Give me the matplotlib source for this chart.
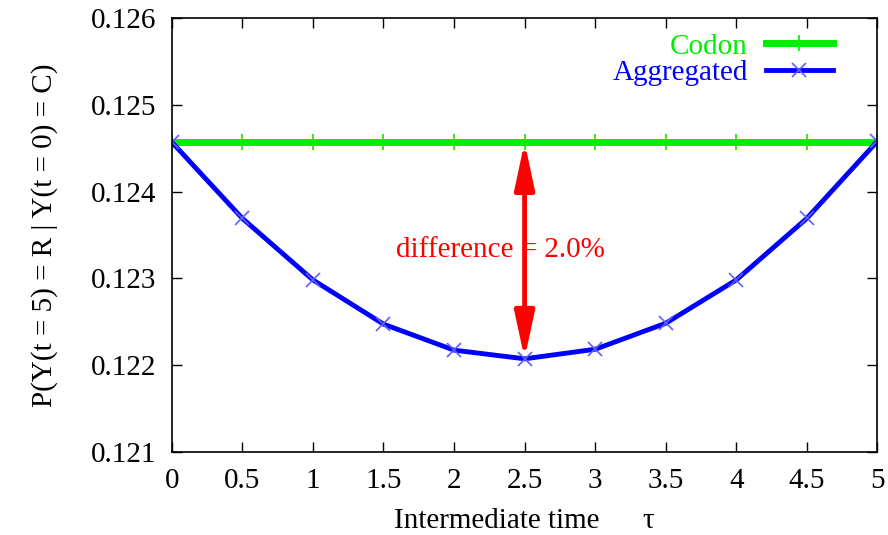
import matplotlib.pyplot as plt
import numpy as np
from matplotlib.patches import FancyArrowPatch

plt.rcParams['font.family'] = ['Liberation Serif', 'DejaVu Serif']

# data
tau = [0, 0.5, 1, 1.5, 2, 2.5, 3, 3.5, 4, 4.5, 5]
codon = [0.12457] * 11
aggregated = [0.12457, 0.12369, 0.12298, 0.12247, 0.12217, 0.12207,
              0.12218, 0.12248, 0.12298, 0.12369, 0.12458]
xticks = [0, 0.5, 1, 1.5, 2, 2.5, 3, 3.5, 4, 4.5, 5]
xticklabels = ["0", "0.5", "1", "1.5", "2", "2.5", "3", "3.5", "4", "4.5", "5"]
yticks = [0.121, 0.122, 0.123, 0.124, 0.125, 0.126]

fs = 21

fig = plt.figure(figsize=(8.88, 5.35), dpi=100)
ax = fig.add_axes([0.1935, 0.156, 0.7945, 0.810])

ax.plot(tau, codon, color='#00ee00', lw=5, marker='+', ms=12, mew=1.2,
        label='Codon')
ax.plot(tau, aggregated, color='#0000ff', lw=3.5, marker='x', ms=10, mew=1.2,
        mec='#6060ff', label='Aggregated')

# double arrow showing the gap at tau = 2.5
imin = int(np.argmin(aggregated))
arr = FancyArrowPatch((tau[imin], codon[imin]), (tau[imin], aggregated[imin]),
                      arrowstyle='<|-|>,head_length=2.8,head_width=0.6',
                      mutation_scale=10, color='red', lw=3.5, shrinkA=0, shrinkB=0,
                      zorder=4)
ax.add_patch(arr)
diff = (codon[imin] - aggregated[imin]) / codon[imin] * 100
ax.text(2.33, 0.12333, "difference = %.1f%%" % diff, color='red', fontsize=fs,
        ha='center', va='center', zorder=5)

ax.set_xlim(0, 5)
ax.set_ylim(0.121, 0.126)
ax.set_xticks(xticks)
ax.set_xticklabels(xticklabels)
ax.set_yticks(yticks)
ax.tick_params(direction='in', top=True, right=True, length=7, width=1,
               labelsize=fs)
ax.tick_params(axis='x', pad=12)
ax.tick_params(axis='y', pad=11)
for s in ax.spines.values():
    s.set_linewidth(1.2)

ax.set_xlabel("Intermediate time      τ", fontsize=fs, labelpad=10)
ax.set_ylabel("P(Y(t = 5) = R | Y(t = 0) = C)", fontsize=fs, labelpad=24)

leg = ax.legend(loc='upper right', bbox_to_anchor=(0.945, 0.979),
                frameon=False, markerfirst=False,
                labelcolor='linecolor', fontsize=fs, handlelength=2.3,
                borderaxespad=0, labelspacing=0.0, handletextpad=0.6,
                borderpad=0.2)

plt.savefig("out.png", dpi=100)
